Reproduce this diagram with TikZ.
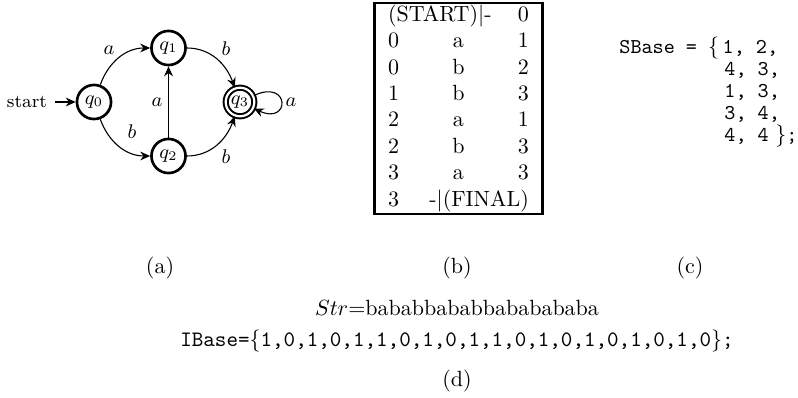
\documentclass[tikz,border=0pt]{standalone}
\usepackage{graphicx}
\usetikzlibrary{arrows.meta}
\begin{document}
\begin{tikzpicture}[x=0.4545pt,y=0.4545pt,
  stnode/.style={circle,draw,line width=1.2pt,minimum size=15.5pt,inner sep=0pt,font=\small},
  accnode/.style={circle,draw,line width=0.9pt,double,double distance=1pt,minimum size=13pt,inner sep=0pt,font=\small},
  edgearr/.style={-{Stealth[length=4.5pt,width=4pt]},line width=0.5pt},
  lab/.style={font=\small,inner sep=1pt},
  captext/.style={inner sep=0pt},
  ttline/.style={font=\fontsize{9.6pt}{11pt}\ttfamily,inner sep=0pt,anchor=mid west,text height=6pt,text depth=1.5pt}]
\useasboundingbox (0,0) rectangle (798,397);
% (a) automaton
\node[stnode] (q0) at (94,295) {$q_0$};
\node[stnode] (q1) at (168.5,349) {$q_1$};
\node[stnode] (q2) at (168.5,241) {$q_2$};
\node[accnode] (q3) at (240,295) {$q_3$};
\node[font=\fontsize{8.3pt}{10pt}\selectfont,inner sep=3.5pt,anchor=east] (st) at (55,295) {start};
\draw[edgearr] (st) -- (q0);
\draw[edgearr] (q0) to[out=70,in=180] (q1);
\draw[edgearr] (q0) to[out=-70,in=180] (q2);
\draw[edgearr] (q1) to[out=0,in=110] (q3);
\draw[edgearr] (q2) to[out=0,in=-110] (q3);
\draw[edgearr] (q2) -- (q1);
\draw[edgearr] (q3) to[out=25,in=-25,looseness=8,min distance=9pt] (q3);
\node[lab] (la1) at (109,347) {$a$};
\node[lab] (lb1) at (226,348) {$b$};
\node[lab] (la2) at (157,295) {$a$};
\node[lab] (lb2) at (132,265) {$b$};
\node[lab] (lb3) at (226,240) {$b$};
\node[lab] (la3) at (291,295) {$a$};
% (b) table
\node[draw,line width=1.2pt,inner sep=0pt] (tab) at (458.5,288.5) {%
\begin{tabular}{lcr}
\multicolumn{2}{l}{(START)|-} & 0\\
0 & a & 1\\
0 & b & 2\\
1 & b & 3\\
2 & a & 1\\
2 & b & 3\\
3 & a & 3\\
3 & \multicolumn{2}{r}{-|(FINAL)}
\end{tabular}};
% (c) SBase
\node[ttline] (s1) at (619,348) {SBase = $\{$\,1, 2,};
\node[ttline] (s2) at (724,326) {4, 3,};
\node[ttline] (s3) at (724,304) {1, 3,};
\node[ttline] (s4) at (724,282) {3, 4,};
\node[ttline] (s5) at (724,260) {4, 4\hspace{3pt}$\}$;};
% captions
\node[captext] (ca) at (160,129) {(a)};
\node[captext] (cb) at (457,129) {(b)};
\node[captext] (cc) at (690,129) {(c)};
% (d)
\node[captext] (str) at (457,89) {$Str$=bababbababbababababa};
\node[captext] (ib) at (457,56) {\texttt{IBase=}$\{$\texttt{1,0,1,0,1,1,0,1,0,1,1,0,1,0,1,0,1,0,1,0}$\}$\texttt{;}};
\node[captext] (cd) at (457,16) {(d)};
\end{tikzpicture}
\end{document}
